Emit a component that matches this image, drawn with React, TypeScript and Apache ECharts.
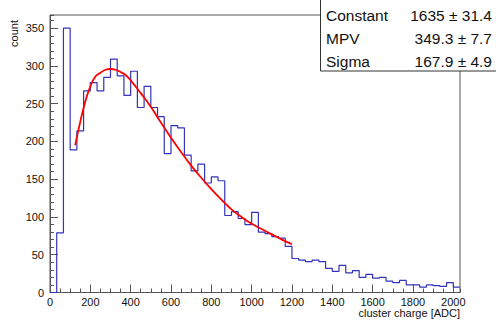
import React, { useEffect, useRef } from "react";
import * as echarts from "echarts";

// Histogram: 61 bins of width 2000/60 starting at 0 (bin contents)
const BIN_COUNT = 61;
const BIN_WIDTH = 2000 / 60;
const counts = [
  0, 79, 350, 189, 214, 267, 278, 267, 285, 309,
  287, 261, 293, 245, 273, 245, 233, 184, 221, 218,
  182, 161, 170, 145, 153, 148, 102, 107, 98, 90,
  106, 80, 78, 74, 72, 61, 45, 43, 41, 43,
  41, 32, 28, 36, 26, 29, 20, 24, 19, 20,
  15, 13, 16, 10, 10, 7, 10, 9, 8, 13,
  7,
];

// Fit curve points
const fitX = [125, 150, 175, 200, 225, 250, 275, 300, 325, 350, 375, 400, 450, 500, 550, 600, 650, 700, 750, 800, 850, 900, 950, 1000, 1050, 1100, 1150, 1200];
const fitY = [195, 226, 253, 273, 286, 291, 295, 296, 295, 292, 288, 281, 264, 246, 225, 205, 186, 168, 152, 137, 123, 110, 100, 91, 84, 77, 70, 64];

// Axis tick labels
const xTickLabels = [0, 200, 400, 600, 800, 1000, 1200, 1400, 1600, 1800, 2000];
const yTickLabels = [0, 50, 100, 150, 200, 250, 300, 350];

// Stats box
const statNames = ["Constant", "MPV", "Sigma"];
const statValues = ["1635 \u00b1 31.4", "349.3 \u00b1 7.7", "167.9 \u00b1 4.9"];

const X_MAX = BIN_COUNT * BIN_WIDTH;
const Y_MAX = 367.5;
const FONT = "'Liberation Sans', Arial, Helvetica, sans-serif";
const AXIS_COLOR = "#555";

function hasTick(list: number[], v: number) {
  return list.some((t) => Math.abs(t - v) < 1e-6);
}

export default function App() {
  const ref = useRef<HTMLDivElement>(null);

  useEffect(() => {
    if (!ref.current) return;
    const chart = echarts.init(ref.current, null, { renderer: "svg" });

    const histData: number[][] = counts.map((c, i) => [i * BIN_WIDTH, c]);
    histData.push([X_MAX, counts[counts.length - 1]]);
    const fitData = fitX.map((x, i) => [x, fitY[i]]);

    const lineStyle = { color: AXIS_COLOR, width: 1 };

    const option: any = {
      animation: false,
      backgroundColor: "#fff",
      grid: {
        left: 50,
        right: 36,
        top: 15,
        bottom: 30.5,
        show: true,
        borderColor: AXIS_COLOR,
        borderWidth: 1,
        backgroundColor: "transparent",
      },
      xAxis: [
        {
          type: "value",
          min: 0,
          max: X_MAX,
          interval: 200,
          position: "bottom",
          axisLine: { show: true, onZero: false, lineStyle },
          axisTick: { show: true, inside: true, length: 8, lineStyle },
          axisLabel: {
            show: true,
            showMaxLabel: false,
            margin: 4,
            fontSize: 11,
            fontFamily: FONT,
            color: "#111",
            formatter: (v: number) => (hasTick(xTickLabels, v) ? String(Math.round(v)) : ""),
          },
          splitLine: { show: false },
        },
        {
          type: "value",
          min: 0,
          max: X_MAX,
          interval: 50,
          position: "bottom",
          offset: 0,
          axisLine: { show: false, onZero: false },
          axisTick: { show: true, inside: true, length: 4, lineStyle },
          axisLabel: { show: false },
          splitLine: { show: false },
        },
      ],
      yAxis: [
        {
          type: "value",
          min: 0,
          max: Y_MAX,
          interval: 50,
          position: "left",
          axisLine: { show: true, onZero: false, lineStyle },
          axisTick: { show: true, inside: true, length: 8, lineStyle },
          axisLabel: {
            show: true,
            showMaxLabel: false,
            margin: 6,
            fontSize: 11,
            fontFamily: FONT,
            color: "#111",
            formatter: (v: number) => (hasTick(yTickLabels, v) ? String(Math.round(v)) : ""),
          },
          splitLine: { show: false },
        },
        {
          type: "value",
          min: 0,
          max: Y_MAX,
          interval: 10,
          position: "left",
          offset: 0,
          axisLine: { show: false, onZero: false },
          axisTick: { show: true, inside: true, length: 4, lineStyle },
          axisLabel: { show: false },
          splitLine: { show: false },
        },
      ],
      series: [
        {
          type: "line",
          name: "hist",
          step: "end",
          xAxisIndex: 0,
          yAxisIndex: 0,
          data: histData,
          symbol: "none",
          lineStyle: { color: "#3333bb", width: 1.2 },
          z: 3,
        },
        {
          type: "line",
          name: "fit",
          smooth: 0.4,
          xAxisIndex: 0,
          yAxisIndex: 0,
          data: fitData,
          symbol: "none",
          lineStyle: { color: "#ff0000", width: 1.8 },
          z: 4,
        },
      ],
      graphic: [
        {
          type: "text",
          right: 36,
          top: 307,
          style: {
            text: "cluster charge [ADC]",
            font: `11px ${FONT}`,
            fill: "#111",
          },
        },
        {
          type: "text",
          x: 8,
          y: 20,
          rotation: Math.PI / 2,
          style: {
            text: "count",
            font: `11px ${FONT}`,
            fill: "#111",
            align: "right",
            verticalAlign: "top",
          },
        },
        {
          type: "rect",
          z: 100,
          shape: { x: 320.5, y: -2, width: 190, height: 73 },
          style: { fill: "#fff", stroke: "#333", lineWidth: 1 },
        },
        ...statNames.map((n, i) => ({
          type: "text",
          z: 101,
          x: 326,
          y: 15 + i * 23,
          style: {
            text: n,
            font: `15.5px ${FONT}`,
            fill: "#111",
            align: "left",
            verticalAlign: "middle",
          },
        })),
        ...statValues.map((v, i) => ({
          type: "text",
          z: 101,
          x: 492,
          y: 15 + i * 23,
          style: {
            text: v,
            font: `15.5px ${FONT}`,
            fill: "#111",
            align: "right",
            verticalAlign: "middle",
          },
        })),
      ],
    };

    chart.setOption(option);
    return () => chart.dispose();
  }, []);

  return (
    <div
      ref={ref}
      style={{ position: "fixed", left: 0, top: 0, width: 496, height: 323, background: "#fff" }}
    />
  );
}
